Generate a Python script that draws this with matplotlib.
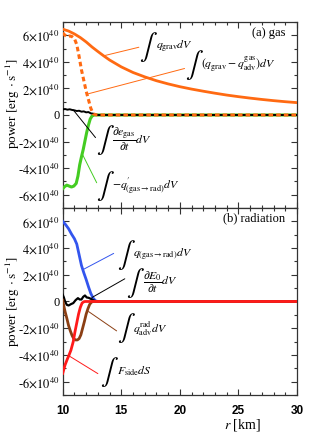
import numpy as np
import matplotlib
matplotlib.use("Agg")
import matplotlib.pyplot as plt
from matplotlib.ticker import MultipleLocator, FuncFormatter

plt.rcParams['font.family'] = ['Liberation Serif', 'DejaVu Serif']
plt.rcParams['mathtext.fontset'] = 'stix'

# ---------------- data (power in units of 1e40 erg/s, r in km) -------------
r_grav = [10, 10.5, 11, 11.5, 12, 12.5, 13, 13.5, 14, 15, 16, 17, 18, 19, 20,
          21, 22, 23, 24, 25, 26, 27, 28, 29, 30]
q_grav = [6.46, 6.32, 6.10, 5.83, 5.50, 5.12, 4.78, 4.45, 4.14, 3.62, 3.20,
          2.87, 2.58, 2.34, 2.13, 1.95, 1.79, 1.64, 1.50, 1.38, 1.27, 1.17,
          1.08, 1.00, 0.93]

r_net = [10, 10.2, 10.4, 10.6, 10.8, 11.0, 11.2, 11.4, 11.6, 11.8, 12.0, 12.2,
         12.4, 12.6, 12.8, 13.0, 30]
q_net = [6.18, 6.00, 5.88, 5.95, 5.90, 5.75, 5.30, 4.40, 3.40, 2.60, 1.80,
         1.15, 0.50, 0.10, 0.02, 0.0, 0.0]

r_egas = [10, 10.2, 10.4, 10.6, 10.8, 11.0, 11.2, 11.4, 11.6, 11.8, 12.0,
          12.2, 12.4, 12.6, 12.8, 13.0, 30]
de_gas = [0.42, 0.45, 0.40, 0.43, 0.38, 0.35, 0.30, 0.32, 0.25, 0.27, 0.20,
          0.22, 0.12, 0.10, 0.03, 0.0, 0.0]

r_qgr = [10, 10.15, 10.35, 10.55, 10.75, 10.95, 11.15, 11.3, 11.45, 11.6,
         11.75, 11.9, 12.05, 12.2, 12.35, 12.5, 12.7, 30]
q_gr = [-5.55, -5.40, -5.28, -5.35, -5.42, -5.35, -5.15, -4.60, -3.75, -3.15,
        -2.60, -1.95, -1.30, -0.75, -0.30, -0.08, 0.0, 0.0]

r_rad = [10, 10.25, 10.5, 10.75, 11.0, 11.2, 11.4, 11.6, 11.8, 12.0, 12.2,
         12.4, 12.6, 12.8, 13.0, 30]
q_rad = [6.0, 5.75, 5.45, 5.05, 4.70, 4.30, 3.50, 2.70, 2.15, 1.65, 1.10,
         0.60, 0.25, 0.05, 0.0, 0.0]

r_e0 = [10, 10.1, 10.2, 10.35, 10.5, 10.7, 10.9, 11.1, 11.3, 11.45, 11.6,
        11.75, 11.9, 12.05, 12.2, 12.4, 12.6, 12.8, 13.0, 30]
dE0 = [0.50, 0.30, 0.0, -0.25, -0.30, -0.20, -0.12, 0.10, 0.25, 0.15, 0.15,
       0.35, 0.45, 0.30, 0.28, 0.20, 0.10, 0.03, 0.0, 0.0]

r_adv = [10, 10.1, 10.2, 10.35, 10.5, 10.65, 10.8, 10.95, 11.1, 11.25, 11.4,
         11.55, 11.7, 11.85, 12.0, 12.15, 12.3, 12.45, 12.6, 30]
q_adv = [0.1, -0.35, -0.75, -1.25, -1.80, -2.20, -2.55, -2.80, -2.88, -2.88,
         -2.78, -2.50, -2.00, -1.50, -0.95, -0.55, -0.22, -0.05, 0.0, 0.0]

r_side = [10, 10.2, 10.4, 10.5, 10.7, 10.9, 11.05, 11.2, 11.35, 11.5, 11.65,
          11.8, 11.9, 30]
F_side = [-5.38, -4.75, -4.30, -4.10, -3.65, -3.00, -2.25, -1.60, -0.95,
          -0.45, -0.12, -0.02, 0.0, 0.0]

x_ticks = [10, 15, 20, 25, 30]

C_OR = '#ff6a12'
C_GR = '#44cc22'
C_BL = '#3355ee'
C_BR = '#8b3f14'
C_RD = '#ff1a1a'

fig = plt.figure(figsize=(3.12, 4.40), dpi=100)
axa = fig.add_axes([0.201, 0.5273, 0.751, 0.4227])
axb = fig.add_axes([0.201, 0.1023, 0.751, 0.4250])


def ylab(v, pos):
    if abs(v) < 1e-9:
        return '0'
    if v > 0:
        return r'$%d{\times}10^{40}$' % int(round(v))
    return r'-$%d{\times}10^{40}$' % int(round(-v))


for ax in (axa, axb):
    ax.set_xlim(10, 30)
    ax.set_ylim(-7, 7)
    ax.xaxis.set_major_locator(MultipleLocator(5))
    ax.xaxis.set_minor_locator(MultipleLocator(1))
    ax.yaxis.set_major_locator(MultipleLocator(2))
    ax.yaxis.set_minor_locator(MultipleLocator(1))
    ax.yaxis.set_major_formatter(FuncFormatter(ylab))
    ax.tick_params(which='both', direction='in', top=True, right=True,
                   color='#333333', width=0.8)
    ax.tick_params(which='major', length=4)
    ax.tick_params(which='minor', length=2.2)
    ax.tick_params(axis='y', labelsize=9, pad=2)
    for s in ax.spines.values():
        s.set_linewidth(0.9)
        s.set_color('#333333')
    ax.set_ylabel(r'power $[\mathrm{erg}\ \cdot\mathrm{s}^{-1}]$', fontsize=9.5)

axa.yaxis.set_label_coords(-0.175, 0.56)
axb.yaxis.set_label_coords(-0.175, 0.5)

axa.tick_params(axis='x', labelbottom=False)
axb.set_xticks(x_ticks)
axb.set_xticklabels([str(t) for t in x_ticks], fontfamily='Liberation Sans',
                    fontweight='bold', fontsize=8.5)
axb.tick_params(axis='x', pad=7)
axb.set_xlabel(r'$r$ [km]', fontsize=10)
axb.xaxis.set_label_coords(0.765, -0.118)

# ---------------- panel (a) gas ----------------
axa.plot(r_qgr, q_gr, color=C_GR, lw=2.2, zorder=3)
axa.plot(r_egas, de_gas, color='black', lw=1.4, zorder=4)
axa.plot(r_grav, q_grav, color=C_OR, lw=2.0, zorder=5)
axa.plot(r_net, q_net, color=C_OR, lw=2.2, ls=(0, (1.5, 1.0)), zorder=6)

# ---------------- panel (b) radiation ----------------
axb.plot(r_rad, q_rad, color=C_BL, lw=2.0, zorder=3)
axb.plot(r_e0, dE0, color='black', lw=1.6, zorder=4)
axb.plot(r_adv, q_adv, color=C_BR, lw=2.0, zorder=5)
axb.plot(r_side, F_side, color=C_RD, lw=2.0, zorder=6)


def label(ax, x, y, expr, color, xy, xytext, fs=8.5):
    ax.annotate('', xy=xy, xytext=xytext,
                arrowprops=dict(arrowstyle='-', lw=0.7, color=color,
                                shrinkA=0, shrinkB=0), zorder=7)
    ax.text(x, y, r'$\int$', fontsize=19, ha='left', va='center', zorder=8)
    ax.annotate(expr, xy=(x, y), xytext=(12, 0), textcoords='offset points',
                ha='left', va='center', fontsize=fs, zorder=8)


label(axa, 16.5, 5.15, r'$q_{\rm grav}dV$', C_OR, (13.47, 4.45), (16.5, 5.1))
label(axa, 20.4, 3.8, r'$(q_{\rm grav}-q_{\rm adv}^{\rm gas})dV$', C_OR,
      (12.2, 1.6), (20.4, 3.5))
label(axa, 12.8, -1.85, r'$\dfrac{\partial e_{\rm gas}}{\partial t}dV$', 'black',
      (10.9, 0.38), (12.8, -1.7))
label(axa, 12.8, -5.35, r'$-q^{\prime}_{\rm (gas\rightarrow rad)}dV$', C_GR,
      (11.65, -2.9), (12.9, -5.1))
axa.text(29.0, 6.2, '(a) gas', fontsize=9, ha='right', va='center')

label(axb, 14.6, 3.5, r'$q_{\rm (gas\rightarrow rad)}dV$', C_BL,
      (11.76, 2.4), (14.35, 3.6))
label(axb, 15.4, 1.4, r'$\dfrac{\partial E_0}{\partial t}dV$', 'black',
      (12.5, 0.3), (15.3, 1.7))
label(axb, 14.6, -2.0, r'$q_{\rm adv}^{\rm rad}dV$', C_BR,
      (12.2, -0.75), (14.6, -2.2))
label(axb, 13.2, -5.25, r'$F_{\rm side}dS$', C_RD,
      (10.5, -4.05), (13.0, -5.4))
axb.text(29.0, 6.25, '(b) radiation', fontsize=9, ha='right', va='center')

fig.savefig('out.png', dpi=100)
